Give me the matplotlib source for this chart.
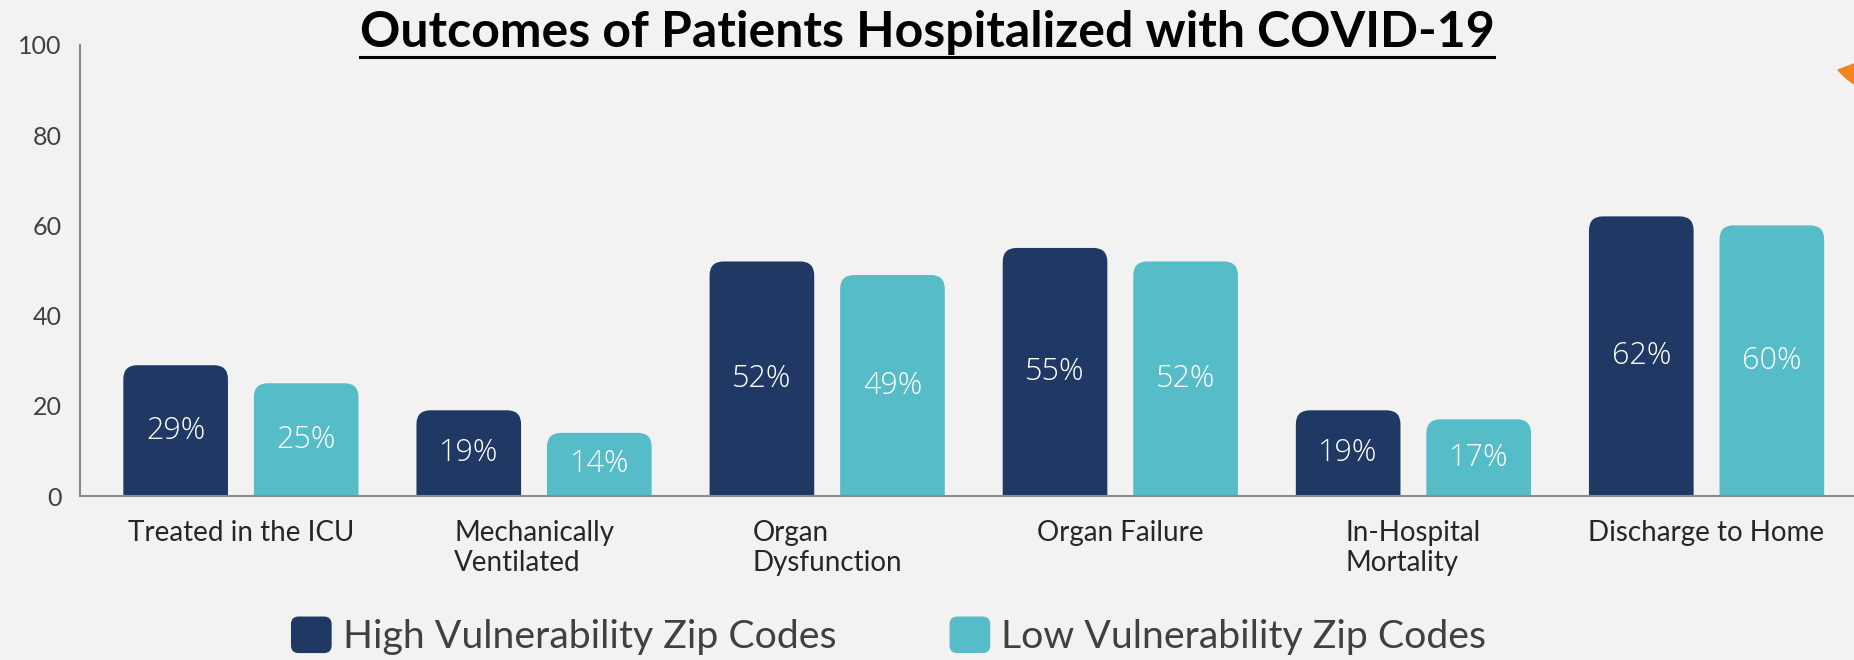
import numpy as np
import matplotlib
matplotlib.use('Agg')
import matplotlib.pyplot as plt
import matplotlib.patches as mpatches
from matplotlib.legend_handler import HandlerPatch

# Data
categories = ['Treated in the ICU', 'Mechanically\nVentilated', 'Organ\nDysfunction',
              'Organ Failure', 'In-Hospital\nMortality', 'Discharge to Home']
high_vuln = [29, 19, 52, 55, 19, 62]
low_vuln = [25, 14, 49, 52, 17, 60]
series_names = ['High Vulnerability Zip Codes', 'Low Vulnerability Zip Codes']
yticks = [0, 20, 40, 60, 80, 100]

dark = '#1F3864'
teal = '#55BCC8'
bg = '#F2F2F2'

fig = plt.figure(figsize=(18.54, 6.6), dpi=100, facecolor=bg)
ax = fig.add_axes([80 / 1854, 164 / 660, 1 - 80 / 1854, 451 / 660])
ax.set_facecolor(bg)

x = np.arange(len(categories))
w = 0.357
off = 0.2227
xlim = (-0.549, 5.503)
ax.set_xlim(*xlim)
ax.set_ylim(0, 100)

bars_hi = ax.bar(x - off, high_vuln, w, color=dark)
bars_lo = ax.bar(x + off, low_vuln, w, color=teal)

# value labels in the middle of each bar
for cont, vals in ((bars_hi, high_vuln), (bars_lo, low_vuln)):
    ax.bar_label(cont, labels=[f'{v}%' for v in vals], label_type='center',
                 color='white', fontsize=22, fontfamily='Open Sans', fontweight='light')

# swap the plain rectangles for ones with rounded top corners
px_per_x = ax.get_position().width * 1854 / (xlim[1] - xlim[0])
px_per_y = ax.get_position().height * 660 / 100
r_px = 14
rx = r_px / px_per_x
ry = r_px / px_per_y
for cont in (bars_hi, bars_lo):
    for b in cont:
        fb = mpatches.FancyBboxPatch((b.get_x(), -ry), b.get_width(), b.get_height() + ry,
                                     boxstyle=f'round,pad=0,rounding_size={rx}',
                                     mutation_aspect=ry / rx,
                                     facecolor=b.get_facecolor(), edgecolor='none',
                                     clip_on=True, zorder=2)
        ax.add_patch(fb)
        b.remove()

ax.set_xticks(x)
ax.set_xticklabels(categories, fontsize=20, fontfamily='Lato', color='#262626',
                   multialignment='left', linespacing=1.2)
ax.set_yticks(yticks)
ax.set_yticklabels([str(t) for t in yticks], fontsize=18, fontfamily='Lato', color='#404040')
ax.tick_params(axis='x', length=0, pad=17)
ax.tick_params(axis='y', length=0, pad=13)

for s in ('top', 'right'):
    ax.spines[s].set_visible(False)
for s in ('left', 'bottom'):
    ax.spines[s].set_color('#8C8C8C')
    ax.spines[s].set_linewidth(1.5)
    ax.spines[s].set_zorder(3)


def rounded_handle(legend, orig_handle, xdescent, ydescent, width, height, fontsize):
    rr = min(width, height) * 0.2
    return mpatches.FancyBboxPatch((-xdescent, -ydescent), width, height,
                                   boxstyle=f'round,pad=0,rounding_size={rr}')


handles = [mpatches.Patch(color=dark), mpatches.Patch(color=teal)]
fig.legend(handles, series_names, ncol=2, loc='center', bbox_to_anchor=(0.4795, 0.036),
           frameon=False, prop={'family': 'Lato', 'weight': 'normal', 'size': 28.3},
           labelcolor='#404040', handlelength=1.0, handleheight=1.0,
           handletextpad=0.3, columnspacing=2.9,
           handler_map={mpatches.Patch: HandlerPatch(patch_func=rounded_handle)})

# underlined bold title
title = fig.text(0.5, 613 / 660, 'Outcomes of Patients Hospitalized with COVID-19',
                 ha='center', va='baseline', fontsize=36, fontweight='bold',
                 fontfamily='Lato', color='black')
fig.canvas.draw()
tb = title.get_window_extent()
fig.add_artist(plt.Line2D([tb.x0 / 1854, tb.x1 / 1854], [603 / 660, 603 / 660],
                          color='black', linewidth=2.2, transform=fig.transFigure))

# clipped orange shape at the top right corner
fig.add_artist(mpatches.Polygon([[1838 / 1854, 1 - 70 / 660], [1854 / 1854, 1 - 64 / 660],
                                 [1854 / 1854, 1 - 84 / 660], [1846 / 1854, 1 - 78 / 660]],
                                closed=True, color='#F58220', transform=fig.transFigure))

fig.savefig('out.png', dpi=100, facecolor=bg)
